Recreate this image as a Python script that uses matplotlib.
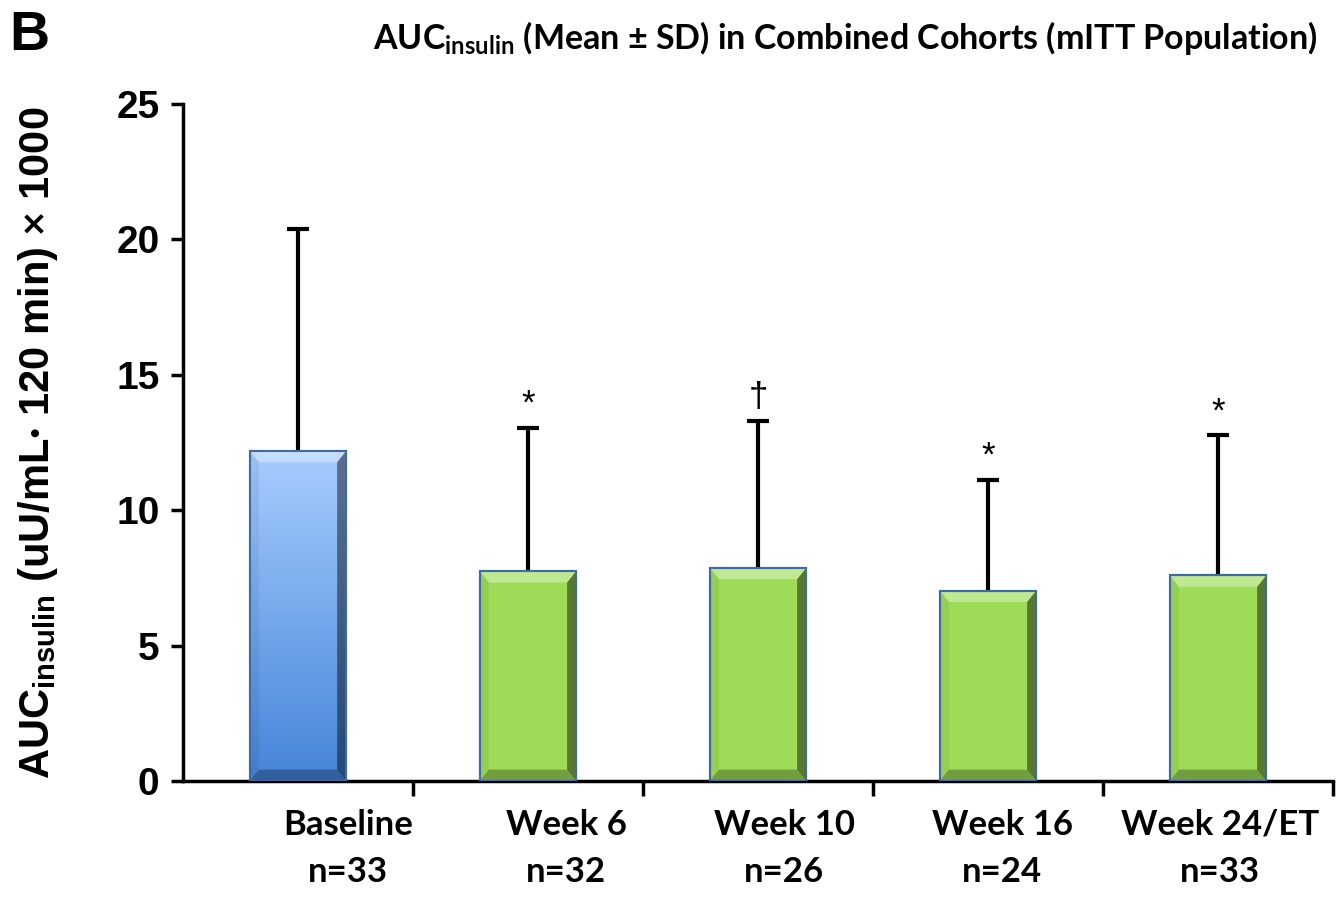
import numpy as np
import matplotlib
matplotlib.use("Agg")
import matplotlib.pyplot as plt
from matplotlib.colors import LinearSegmentedColormap
from matplotlib.patches import Polygon

# ---------------- data ----------------
categories = ["Baseline", "Week 6", "Week 10", "Week 16", "Week 24/ET"]
n_values = [33, 32, 26, 24, 33]
means = [12.19, 7.75, 7.87, 7.03, 7.59]
sds = [8.19, 5.29, 5.42, 4.09, 5.17]
markers = ["", "*", "\u2020", "*", "*"]
y_ticks = [0, 5, 10, 15, 20, 25]

plt.rcParams["mathtext.fontset"] = "custom"
plt.rcParams["mathtext.rm"] = "Lato:bold"
plt.rcParams["mathtext.sf"] = "Liberation Sans:bold"

fig = plt.figure(figsize=(13.38, 9.09), dpi=100)
ax = fig.add_axes([0.1368, 0.1408, 0.8595, 0.7448])

x = np.arange(len(categories))
width = 0.42
face = ["#7fb0f0"] + ["#9edc58"] * 4
bars = ax.bar(x, means, width=width, color=face, edgecolor="#3f6ba3",
              linewidth=1.5, zorder=3)

# gradient for the baseline bar
blue_cmap = LinearSegmentedColormap.from_list("bl", ["#4584d8", "#a7cdff"])
grad = np.linspace(0, 1, 256).reshape(-1, 1)
b0 = bars[0]
im = ax.imshow(grad, cmap=blue_cmap, origin="lower", aspect="auto",
               extent=[b0.get_x(), b0.get_x() + b0.get_width(), 0, b0.get_height()],
               zorder=3.1)
im.set_clip_path(b0)

# bevel shading
bx, by = 0.04, 0.42
for b in bars:
    x0, x1, h = b.get_x(), b.get_x() + b.get_width(), b.get_height()
    top = Polygon([(x0, h), (x1, h), (x1 - bx, h - by), (x0 + bx, h - by)],
                  closed=True, facecolor="white", alpha=0.35, edgecolor="none", zorder=3.2)
    right = Polygon([(x1, h), (x1, 0), (x1 - bx, by), (x1 - bx, h - by)],
                    closed=True, facecolor="black", alpha=0.45, edgecolor="none", zorder=3.2)
    bottom = Polygon([(x0, 0), (x1, 0), (x1 - bx, by), (x0 + bx, by)],
                     closed=True, facecolor="black", alpha=0.28, edgecolor="none", zorder=3.2)
    left = Polygon([(x0, 0), (x0, h), (x0 + bx, h - by), (x0 + bx, by)],
                   closed=True, facecolor="black", alpha=0.06, edgecolor="none", zorder=3.2)
    for p in (top, right, bottom, left):
        ax.add_patch(p)
    ax.add_patch(plt.Rectangle((x0, 0), x1 - x0, h, facecolor="none",
                               edgecolor="#3f6ba3", linewidth=1.5, zorder=3.3))

# error bars (upper only)
eb = ax.errorbar(x, means, yerr=[np.zeros(len(means)), sds], fmt="none",
                 ecolor="black", elinewidth=3, capsize=8, capthick=3, zorder=2)
for cl in eb[1]:
    if np.allclose(cl.get_ydata(), means):
        cl.set_visible(False)

# significance markers
for xi, m, s, mk in zip(x, means, sds, markers):
    if mk:
        ax.annotate(mk, (xi, m + s), xytext=(0, 5), textcoords="offset points",
                    ha="center", va="bottom", fontsize=25,
                    family="Liberation Sans", color="black")

ax.set_xlim(-0.5, 4.5)
ax.set_ylim(0, 25)

for s in ("top", "right"):
    ax.spines[s].set_visible(False)
for s in ("left", "bottom"):
    ax.spines[s].set_linewidth(2.5)

ax.set_yticks(y_ticks)
ax.set_yticklabels([str(t) for t in y_ticks], fontsize=28, fontweight="bold",
                   family="Liberation Sans")
ax.tick_params(axis="y", direction="out", length=9, width=2.5, pad=8)

# category labels sit slightly right of the bars, evenly spaced as in the source
label_pos = 0.217 + 0.948 * x
ax.set_xticks(label_pos)
ax.set_xticklabels([f"{c}\nn={n}" for c, n in zip(categories, n_values)],
                   fontsize=25, fontweight="bold", family="Lato", linespacing=1.58)
ax.tick_params(axis="x", which="major", length=0, pad=20)
ax.set_xticks(np.arange(0.5, 5.0, 1.0), minor=True)
ax.tick_params(axis="x", which="minor", direction="out", length=11, width=2.5)

ax.set_ylabel(r"AUC$_{\mathsf{insulin}}$ (uU/mL$\bullet$ 120 min) $\times$ 1000",
              fontsize=30, fontweight="bold", family="Liberation Sans", labelpad=40)

fig.text(0.279, 0.958, r"AUC$_{\mathrm{insulin}}$ (Mean ± SD) in Combined Cohorts (mITT Population)",
         fontsize=24.5, fontweight="bold", family="Lato", ha="left", va="center")
fig.text(0.007, 0.960, "B", fontsize=40, fontweight="bold", family="Liberation Sans",
         ha="left", va="center")

fig.savefig("out.png", dpi=100)
